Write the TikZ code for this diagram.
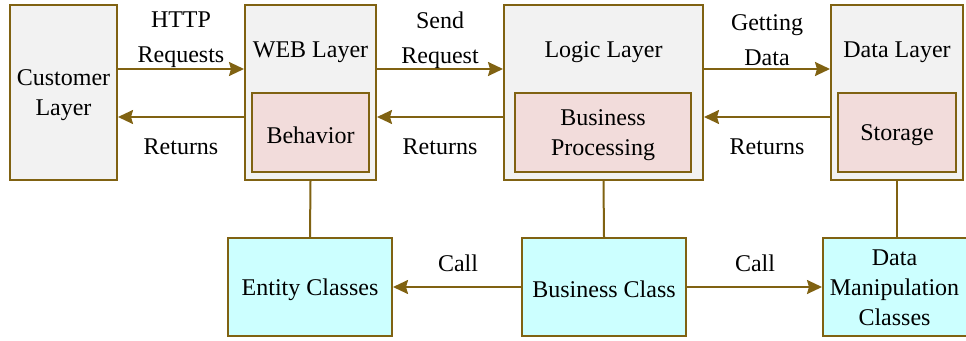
\documentclass[tikz,border=0pt]{standalone}
\usepackage{fontspec}
\setmainfont{Liberation Serif}
\usetikzlibrary{arrows.meta}
\definecolor{edgebrown}{RGB}{128,98,18}
\definecolor{layergray}{RGB}{242,242,242}
\definecolor{innerpink}{RGB}{242,220,219}
\definecolor{classcyan}{RGB}{204,255,255}
\tikzset{
  base/.style={draw=edgebrown, line width=2pt, inner sep=0pt},
  layer/.style={base, fill=layergray},
  inner/.style={base, fill=innerpink},
  cls/.style={base, fill=classcyan},
  lbl/.style={inner sep=0pt, align=center, font=\fontsize{24}{30}\selectfont},
  txt/.style={lbl, yshift=-2.5pt},
  pair/.style={inner sep=0pt, align=center, font=\fontsize{24}{35}\selectfont},
  flow/.style={draw=edgebrown, line width=2pt,
    -{Stealth[length=15pt,width=14pt,inset=2pt]}},
  link/.style={draw=edgebrown, line width=2pt}
}
\begin{document}
\begin{tikzpicture}[x=1pt,y=-1pt]
\useasboundingbox (0,0) rectangle (966,340);

% upper row: layers
\node[layer, minimum width=107pt, minimum height=175pt] (cust) at (63.5,92.5) {};
\node[layer, minimum width=131pt, minimum height=175pt] (web) at (310.5,92.5) {};
\node[layer, minimum width=199pt, minimum height=175pt] (logic) at (603.5,92.5) {};
\node[layer, minimum width=132pt, minimum height=175pt] (data) at (897,92.5) {};

\node[txt] (custt) at (cust.center) {Customer\\Layer};
\node[txt] (webt) at (310.5,49.5) {WEB Layer};
\node[txt] (logict) at (603.5,49.5) {Logic Layer};
\node[txt] (datat) at (897,49.5) {Data Layer};

% inner components
\node[inner, minimum width=117pt, minimum height=79pt] (behav) at (310.5,132.5) {};
\node[inner, minimum width=176pt, minimum height=79pt] (bproc) at (603,132.5) {};
\node[inner, minimum width=118pt, minimum height=79pt] (store) at (897,132.5) {};
\node[txt] (behavt) at (behav.center) {Behavior};
\node[txt] (bproct) at (bproc.center) {Business\\Processing};
\node[txt] (storet) at (store.center) {Storage};

% lower row: classes
\node[cls, minimum width=164pt, minimum height=98pt] (entity) at (310,287) {};
\node[cls, minimum width=164pt, minimum height=98pt] (bclass) at (604,287) {};
\node[cls, minimum width=145pt, minimum height=98pt] (dmc) at (895.5,287) {};
\node[txt] (entityt) at (entity.center) {Entity Classes};
\node[txt] (bclasst) at (bclass.center) {Business Class};
\node[txt] (dmct) at (894.5,285) {Data\\Manipulation\\Classes};

% request / return levels
\coordinate (req) at (0,69);
\coordinate (ret) at (0,117);

\draw[flow] (cust.east |- req) -- (web.west |- req);
\draw[flow] (web.east |- req) -- (logic.west |- req);
\draw[flow] (logic.east |- req) -- (data.west |- req);
\draw[flow] (web.west |- ret) -- (cust.east |- ret);
\draw[flow] (logic.west |- ret) -- (web.east |- ret);
\draw[flow] (data.west |- ret) -- (logic.east |- ret);

% layers to classes
\draw[link] (web.south) -- (entity.north);
\draw[link] (logic.south) -- (bclass.north);
\draw[link] (data.south) -- (data.south |- dmc.north);

% calls
\draw[flow] (bclass.west) -- (entity.east);
\draw[flow] (bclass.east) -- (dmc.west);

% connector labels
\node[pair] (l1) at (181,40) {HTTP\\Requests};
\node[pair] (l2) at (440,40) {Send\\Request};
\node[pair] (l3) at (767,40) {Getting\\Data};
\node[lbl] (r1) at (181,147) {Returns};
\node[lbl] (r2) at (440,147) {Returns};
\node[lbl] (r3) at (767,147) {Returns};
\node[lbl] (c1) at (458,263) {Call};
\node[lbl] (c2) at (755,263) {Call};
\end{tikzpicture}
\end{document}
